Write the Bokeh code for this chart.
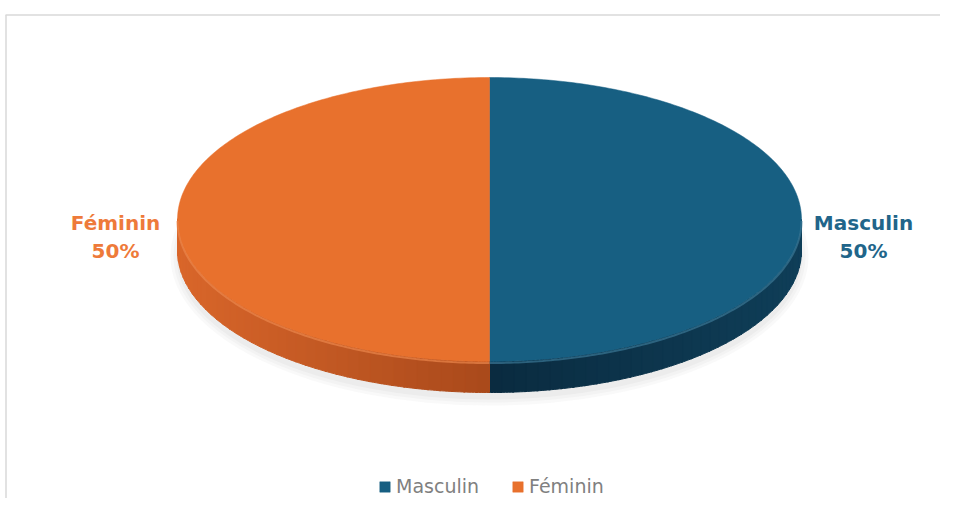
import numpy as np
from bokeh.plotting import figure
from bokeh.models import Range1d, ColumnDataSource, Legend, LegendItem, Label
from bokeh.embed import file_html
from bokeh.resources import INLINE

# ---- data ----
categories = ["Masculin", "Féminin"]
values = [50, 50]

# ---- style ----
top_colors = ["#175F82", "#E8712D"]
side_light = ["#0F3E58", "#D9662A"]
side_dark = ["#0A2B40", "#A9491B"]
label_colors = ["#21658A", "#EE7A3A"]

W, H = 940, 498
p = figure(width=W, height=H, output_backend="svg", toolbar_location=None,
           x_range=Range1d(0, W), y_range=Range1d(H, 0),
           min_border=0, outline_line_color=None)
p.axis.visible = False
p.grid.visible = False
p.background_fill_color = "white"
p.border_fill_color = "white"

# chart frame border
p.line([5, W], [14.5, 14.5], line_color="#D9D9D9", line_width=1.5)
p.line([5.5, 5.5], [14.5, H], line_color="#D9D9D9", line_width=1.5)

# pie geometry (pixel space)
cx, cy, a, b, depth = 489, 219, 312, 142, 31

def pt(phi_deg, dy=0.0, scale=1.0):
    ph = np.radians(phi_deg)
    return cx + a * scale * np.sin(ph), cy - b * scale * np.cos(ph) + dy

fr = np.array(values, dtype=float) / np.sum(values)
ends = np.cumsum(fr) * 360.0
starts = ends - fr * 360.0

# soft shadow
for k, al in enumerate([0.05, 0.05, 0.06]):
    p.ellipse(x=cx, y=cy + depth + 6, width=2 * a + 14 - 6 * k, height=2 * b + 14 - 6 * k,
              fill_color="#808080", fill_alpha=al, line_color=None)

def hex2rgb(h):
    h = h.lstrip("#")
    return np.array([int(h[i:i + 2], 16) for i in (0, 2, 4)], dtype=float)

def mix(c1, c2, t):
    c = hex2rgb(c1) * (1 - t) + hex2rgb(c2) * t
    return "#%02x%02x%02x" % tuple(int(round(v)) for v in c)

# side walls (front half: phi in [90, 270])
for i in range(len(values)):
    s, e = max(starts[i], 90.0), min(ends[i], 270.0)
    if e <= s:
        continue
    nseg = 40
    edges = np.linspace(s, e, nseg + 1)
    xs_list, ys_list, cols = [], [], []
    for j in range(nseg):
        ph = np.linspace(edges[j], edges[j + 1] + 0.3, 6)
        tx, ty = pt(ph)
        bx, by = pt(ph[::-1], dy=depth)
        xs_list.append(np.concatenate([tx, bx]))
        ys_list.append(np.concatenate([ty, by]))
        mid = 0.5 * (edges[j] + edges[j + 1])
        t = abs(np.sin(np.radians(mid)))  # 1 at sides (90/270), 0 at front (180)
        cols.append(mix(side_dark[i], side_light[i], t))
    p.patches(xs_list, ys_list, fill_color=cols, line_color=cols, line_width=1)

# top faces
renderers = []
for i in range(len(values)):
    ph = np.linspace(starts[i], ends[i], 200)
    ex, ey = pt(ph)
    xs = np.concatenate([[cx], ex])
    ys = np.concatenate([[cy], ey])
    src = ColumnDataSource(dict(xs=[xs], ys=[ys]))
    r = p.patches("xs", "ys", source=src, fill_color=top_colors[i],
                  line_color=top_colors[i], line_width=0.5)
    renderers.append(r)
    # rim bevel on front
    s, e = max(starts[i], 90.0), min(ends[i], 270.0)
    if e > s:
        ph2 = np.linspace(s, e, 120)
        rx, ry = pt(ph2, dy=1.5)
        p.line(rx, ry, line_color=mix(top_colors[i], "#ffffff", 0.15), line_width=2, line_alpha=0.7)

# data labels
for i, cat in enumerate(categories):
    midphi = 0.5 * (starts[i] + ends[i])
    side = np.sign(np.sin(np.radians(midphi)))
    lx = cx + side * (a + 62)
    pct = f"{round(fr[i] * 100)}%"
    for txt, yy in [(cat, cy + 3), (pct, cy + 31)]:
        p.add_layout(Label(x=lx, y=yy, text=txt, text_align="center", text_baseline="middle",
                           text_font="DejaVu Sans", text_font_style="bold",
                           text_font_size="20px", text_color=label_colors[i]))

# legend
items = [LegendItem(label=cat, renderers=[renderers[i]]) for i, cat in enumerate(categories)]
legend = Legend(items=items, orientation="horizontal", location=(378, 1),
                glyph_width=13, glyph_height=13, label_standoff=5, spacing=32,
                padding=0, margin=0, border_line_alpha=0, background_fill_alpha=0,
                label_text_font="DejaVu Sans", label_text_font_size="19px",
                label_text_color="#808080")
p.add_layout(legend, "center")

open("out.html", "w").write(file_html(p, INLINE))
